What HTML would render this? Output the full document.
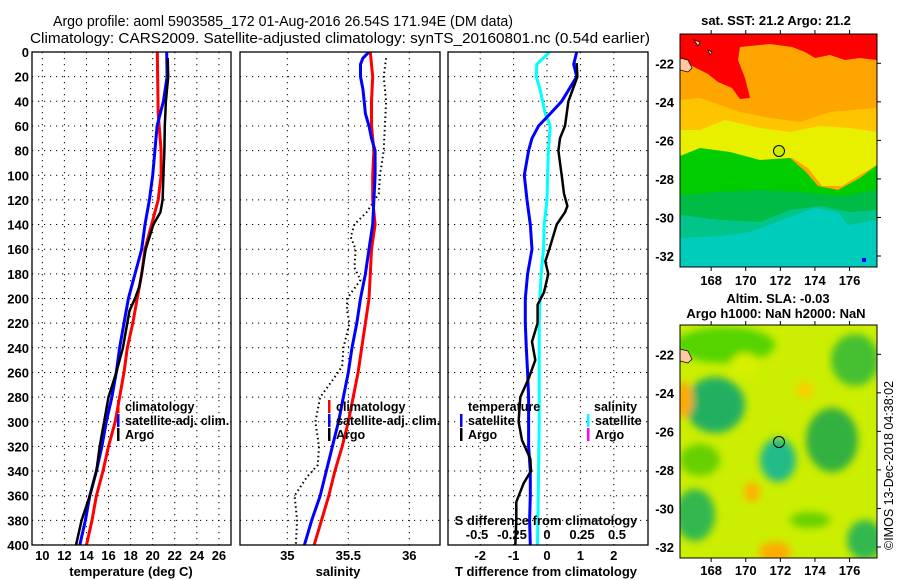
<!DOCTYPE html>
<html><head><meta charset="utf-8"><style>
html,body{margin:0;padding:0;background:#fff;}
svg{display:block;font-family:"Liberation Sans",sans-serif;}
.tk{font-size:13px;font-weight:bold;fill:#000;}
.lg{font-size:12.5px;font-weight:bold;fill:#000;}
.ttl{font-size:15px;fill:#000;}
</style></head><body>
<svg id="fig" width="900" height="580" viewBox="0 0 900 580" xmlns="http://www.w3.org/2000/svg">
<defs>
<clipPath id="c1"><rect x="32" y="52" width="199" height="493"/></clipPath>
<clipPath id="c2"><rect x="240" y="52" width="200" height="493"/></clipPath>
<clipPath id="c3"><rect x="448" y="52" width="200" height="493"/></clipPath>
<clipPath id="m1"><rect x="680" y="34" width="197" height="233"/></clipPath>
<clipPath id="m2"><rect x="680" y="325" width="197" height="233"/></clipPath>
<filter id="bl" x="-20%" y="-20%" width="140%" height="140%"><feGaussianBlur stdDeviation="4"/></filter>
</defs>
<text class="ttl" x="53" y="26" textLength="460" lengthAdjust="spacingAndGlyphs">Argo profile: aoml 5903585_172 01-Aug-2016 26.54S 171.94E (DM data)</text>
<text class="ttl" x="30" y="43" textLength="620" lengthAdjust="spacingAndGlyphs">Climatology: CARS2009. Satellite-adjusted climatology: synTS_20160801.nc (0.54d earlier)</text>

<!-- SST map -->
<g clip-path="url(#m1)">
<rect x="680" y="34" width="197" height="233" fill="#ffa500"/>
<polygon fill="#ff0000" points="680,34 877,34 877,60 860,58 845,60 830,55 815,58 805,52 792,47 770,44 750,46 740,47 738,60 745,78 750,98 740,99 732,88 718,82 708,74 696,68 684,62 680,60"/>
<polygon fill="#ff0000" points="700,34 760,34 760,40 700,42"/>
<polygon fill="#ffc400" points="680,100 700,98 720,105 740,112 770,118 800,122 830,112 877,108 877,140 680,150"/>
<polygon fill="#e8f000" points="680,130 700,130 725,120 760,128 790,132 820,126 850,128 877,132 877,165 860,175 842,186 822,186 808,168 792,158 760,160 725,154 700,150 680,156"/>
<polygon fill="#00cc00" points="680,156 700,148 730,152 760,160 790,158 806,172 818,186 838,190 860,178 877,165 877,267 680,267"/>
<polygon fill="#00bb44" points="680,195 720,192 760,190 800,192 840,196 877,190 877,267 680,267"/>
<polygon fill="#00c48a" points="680,215 720,220 760,222 790,210 820,206 850,212 877,210 877,267 680,267"/>
<polygon fill="#00ccbb" points="680,238 720,236 750,232 790,217 815,208 838,212 848,225 877,220 877,267 680,267"/>
<rect x="862" y="258" width="4" height="4" fill="#0000ff"/>
<path d="M680,58 L688,60 L692,68 L688,72 L680,70 Z" fill="#ffc8a0" stroke="#000" stroke-width="0.7"/>
<path d="M694,40 L700,42 L698,46 Z M708,50 L712,52 L710,55 Z" fill="#ffc8a0" stroke="#000" stroke-width="0.7"/>
<circle cx="779" cy="151" r="5.5" fill="#c8f000" stroke="#000" stroke-width="1"/>
</g>
<rect x="680" y="34" width="197" height="233" fill="none" stroke="#000" stroke-width="1"/>
<text class="tk" x="776" y="25" text-anchor="middle">sat. SST: 21.2 Argo: 21.2</text>

<!-- SLA map -->
<g clip-path="url(#m2)">
<rect x="680" y="325" width="197" height="233" fill="#ccee00"/>
<g filter="url(#bl)">
<ellipse cx="725" cy="345" rx="50" ry="18" fill="#55d400"/>
<ellipse cx="715" cy="405" rx="30" ry="28" fill="#22b060"/>
<ellipse cx="745" cy="365" rx="14" ry="12" fill="#d8f000"/>
<ellipse cx="683" cy="400" rx="10" ry="18" fill="#ffaa00"/>
<ellipse cx="778" cy="460" rx="18" ry="22" fill="#22bb88"/>
<ellipse cx="832" cy="440" rx="26" ry="32" fill="#33b040"/>
<ellipse cx="855" cy="360" rx="24" ry="26" fill="#44c030"/>
<ellipse cx="695" cy="515" rx="20" ry="26" fill="#33b850"/>
<ellipse cx="700" cy="460" rx="20" ry="16" fill="#66d000"/>
<ellipse cx="865" cy="540" rx="18" ry="20" fill="#33b850"/>
<ellipse cx="775" cy="552" rx="16" ry="10" fill="#ffaa00"/>
<ellipse cx="752" cy="492" rx="8" ry="10" fill="#ffb000"/>
<ellipse cx="805" cy="390" rx="8" ry="8" fill="#ffcc00"/>
<ellipse cx="810" cy="520" rx="20" ry="8" fill="#66d000"/>
</g>
<path d="M680,58 L688,60 L692,68 L688,72 L680,70 Z" transform="translate(0,291)" fill="#ffc8a0" stroke="#000" stroke-width="0.7"/>
<circle cx="779" cy="442" r="5.5" fill="none" stroke="#000" stroke-width="1"/>
</g>
<rect x="680" y="325" width="197" height="233" fill="none" stroke="#000" stroke-width="1"/>
<text class="tk" x="778" y="303" text-anchor="middle">Altim. SLA: -0.03</text>
<text class="tk" x="776" y="318" text-anchor="middle">Argo h1000: NaN h2000: NaN</text>
<text transform="translate(893,550) rotate(-90)" font-size="12.5" fill="#000">©IMOS 13-Dec-2018 04:38:02</text>

<g id="axes"></g>
</svg>
<script>
// ---------- data ----------
var depthTicks = [0,20,40,60,80,100,120,140,160,180,200,220,240,260,280,300,320,340,360,380,400];
var tempTicks = [10,12,14,16,18,20,22,24,26];
var salTicks = [35,35.5,36];
var salTickLabels = ["35","35.5","36"];
var tdiffTicks = [-2,-1,0,1,2];
var sdiffTicks = [-0.5,-0.25,0,0.25,0.5];
var sdiffTickLabels = ["-0.5","-0.25","0","0.25","0.5"];
var lonTicks = [168,170,172,174,176];
var latTicks = [-22,-24,-26,-28,-30,-32];

var climTDepth = [0,50,80,100,120,140,160,180,200,220,240,260,280,300,320,340,360,380,400];
var climT = [20.42,20.5,20.76,20.76,20.5,19.9,19.3,19.0,18.6,18.2,17.7,17.4,17.0,16.6,16.0,15.5,14.9,14.5,14.0];
var satTDepth = [0,20,40,60,80,100,120,140,160,180,200,220,240,260,280,300,320,340,360,380,400];
var satT = [21.27,21.3,20.97,20.4,20.2,20.0,19.7,19.3,19.0,18.4,17.8,17.4,17.0,16.7,16.3,15.8,15.4,14.9,14.3,13.9,13.4];
var argoTDepth = [5,20,40,60,80,100,120,130,140,160,180,190,200,210,220,240,260,280,300,320,340,360,380,400];
var argoT = [21.36,21.4,21.2,21.1,21.06,20.97,20.9,20.7,20.06,19.37,19.0,18.8,18.4,17.9,17.7,17.3,16.7,16.0,15.6,15.2,14.9,14.3,13.56,13.05];

var climSDepth = [0,20,40,60,80,100,120,140,160,180,200,220,240,260,280,300,320,340,360,380,400];
var climS = [35.68,35.70,35.69,35.69,35.71,35.70,35.70,35.72,35.69,35.68,35.67,35.64,35.61,35.58,35.54,35.50,35.45,35.39,35.34,35.28,35.22];
var satSDepth = [0,5,10,20,30,40,50,60,70,80,100,120,140,160,180,200,220,240,260,280,300,320,340,360,380,400];
var satS = [35.67,35.62,35.60,35.60,35.62,35.63,35.64,35.67,35.69,35.72,35.72,35.71,35.70,35.67,35.64,35.60,35.57,35.53,35.50,35.46,35.42,35.37,35.32,35.27,35.20,35.14];
var argoSDepth = [5,20,40,60,80,100,115,130,140,150,160,175,185,200,210,220,240,255,265,280,300,320,335,345,360,380,400];
var argoS = [35.81,35.79,35.81,35.80,35.79,35.76,35.75,35.65,35.55,35.52,35.56,35.55,35.60,35.49,35.49,35.51,35.46,35.45,35.38,35.27,35.23,35.26,35.25,35.16,35.06,35.08,35.07];

var satTdDepth = [0,10,20,40,50,60,70,80,100,120,140,160,180,200,220,240,260,280,300,320,340,360,380,400];
var satTd = [0.89,0.8,0.89,0.44,0.1,-0.25,-0.45,-0.55,-0.68,-0.6,-0.5,-0.45,-0.58,-0.65,-0.65,-0.62,-0.58,-0.55,-0.55,-0.55,-0.5,-0.5,-0.52,-0.5];
var argoTdDepth = [9,20,40,60,70,80,90,100,115,125,130,140,160,170,180,195,205,220,235,250,265,280,300,315,330,340,350,365,380,400];
var argoTd = [0.89,0.91,0.64,0.54,0.39,0.34,0.39,0.44,0.51,0.61,0.54,0.29,0.07,-0.05,0.04,-0.09,-0.28,-0.28,-0.45,-0.35,-0.55,-0.8,-0.85,-0.75,-0.5,-0.48,-0.7,-0.92,-0.92,-0.95];
var satSdDepth = [0,10,20,30,50,60,80,100,120,140,160,180,200,220,260,300,340,400];
var satSd = [0.018,-0.073,-0.077,-0.05,-0.013,0.023,0.01,0.004,0,-0.02,-0.025,-0.042,-0.05,-0.056,-0.056,-0.056,-0.06,-0.068];

// ---------- scales ----------
function yD(d){return 52 + d*1.2325;}
function xT(t){return 42.3 + (t-10)*11.04;}
function xS(s){return 287.3 + (s-35)*122;}
function xTd(v){return 547 + v*33.4;}
function xSd(v){return 547 + v*140;}
function xLon(l){return 680 + (l-166.2)*17.3;}
function yLat1(l){return 34 + (-20.48 - l)*19.27;}
function yLat2(l){return 325 + (-20.48 - l)*19.27;}

var NS="http://www.w3.org/2000/svg";
var root=document.getElementById('axes');
function mk(tag,attrs,parent){var e=document.createElementNS(NS,tag);for(var k in attrs)e.setAttribute(k,attrs[k]);(parent||root).appendChild(e);return e;}
function txt(x,y,s,anchor,cls,parent){var t=mk('text',{x:x,y:y,'text-anchor':anchor||'middle','class':cls||'tk'},parent);t.textContent=s;return t;}

var panels=[{x0:32,x1:231,clip:'c1',name:'temperature-panel'},{x0:240,x1:440,clip:'c2',name:'salinity-panel'},{x0:448,x1:648,clip:'c3',name:'difference-panel'}];
panels.forEach(function(p,i){
  var g=mk('g',{});
  
  
  depthTicks.forEach(function(d){
    var l=mk('line',{x1:p.x0,x2:p.x1,y1:yD(d),y2:yD(d),stroke:'#000','stroke-width':1,'stroke-dasharray':'1.2,4.8'},g);
    
    
  });
  var xs = i==0 ? tempTicks.map(xT) : i==1 ? salTicks.map(xS) : tdiffTicks.map(xTd);
  xs.forEach(function(x){
    var l=mk('line',{x1:x,x2:x,y1:52,y2:545,stroke:'#000','stroke-width':1,'stroke-dasharray':'1.2,4.8'},g);
    
    
  });
  p.g=g;
});

function line(g,depths,vals,fx,color,w,dash,name){
  var pts=depths.map(function(d,i){return fx(vals[i]).toFixed(1)+','+yD(d).toFixed(1);}).join(' ');
  var a={points:pts,fill:'none',stroke:color,'stroke-width':w,'stroke-linejoin':'round'};
  if(dash)a['stroke-dasharray']=dash;
  var pl=mk('polyline',a,g);
  
  
}
var c1=mk('g',{'clip-path':'url(#c1)'},panels[0].g);
line(c1,climTDepth,climT,xT,'#ff0000',3,null,'climatology-temperature-line');
line(c1,satTDepth,satT,xT,'#0000ff',3,null,'satellite-temperature-line');
line(c1,argoTDepth,argoT,xT,'#000000',2.5,null,'argo-temperature-line');
var c2=mk('g',{'clip-path':'url(#c2)'},panels[1].g);
line(c2,argoSDepth,argoS,xS,'#000000',2,'1.5,3','argo-salinity-line');
line(c2,climSDepth,climS,xS,'#ff0000',3,null,'climatology-salinity-line');
line(c2,satSDepth,satS,xS,'#0000ff',3,null,'satellite-salinity-line');
var c3=mk('g',{'clip-path':'url(#c3)'},panels[2].g);
line(c3,satSdDepth,satSd,xSd,'#00ffff',3,null,'satellite-salinity-diff-line');
line(c3,satTdDepth,satTd,xTd,'#0000ff',3,null,'satellite-temperature-diff-line');
line(c3,argoTdDepth,argoTd,xTd,'#000000',2.5,null,'argo-temperature-diff-line');

panels.forEach(function(p){
  var r=mk('rect',{x:p.x0,y:52,width:p.x1-p.x0,height:493,fill:'none',stroke:'#000','stroke-width':1.3},p.g);
  
  
});

depthTicks.forEach(function(d){
  var t=txt(29,yD(d)+5,String(d),'end');
  
  
});
tempTicks.forEach(function(v){
  var t=txt(xT(v),560,String(v));
  
  
});
salTicks.forEach(function(v,i){
  var t=txt(xS(v),560,salTickLabels[i]);
  
  
});
tdiffTicks.forEach(function(v){
  var t=txt(xTd(v),560,String(v));
  
  
});
sdiffTicks.forEach(function(v,i){
  var t=txt(xSd(v),539,sdiffTickLabels[i]);
  
  
});
var xl1=txt(131,576,'temperature (deg C)');


var xl2=txt(338,576,'salinity');


var xl3=txt(546,576,'T difference from climatology');


var xl4=txt(546,525,'S difference from climatology');



function legend(x,y,color,label,name){
  var b=mk('rect',{x:x,y:y-11,width:2.5,height:13,fill:color});
  
  
  var t=txt(x+8,y,label,'start','lg');
  
  
}
legend(117,411,'#ff0000','climatology','legend-climatology');
legend(117,425,'#0000ff','satellite-adj. clim.','legend-satellite-adj');
legend(117,439,'#000000','Argo','legend-argo');
legend(328,411,'#ff0000','climatology','legend-climatology-s');
legend(328,425,'#0000ff','satellite-adj. clim.','legend-satellite-adj-s');
legend(328,439,'#000000','Argo','legend-argo-s');
var lt=txt(468,411,'temperature','start','lg');


legend(460,425,'#0000ff','satellite','legend-t-satellite');
legend(460,439,'#000000','Argo','legend-t-argo');
var ls=txt(594,411,'salinity','start','lg');


legend(587,425,'#00ffff','satellite','legend-s-satellite');
legend(587,439,'#ff00ff','Argo','legend-s-argo');

lonTicks.forEach(function(l){
  var a=txt(xLon(l),285,String(l));
  
  
  var b=txt(xLon(l),575,String(l));
  
  
  mk('line',{x1:xLon(l),x2:xLon(l),y1:34,y2:30,stroke:'#000'});
  mk('line',{x1:xLon(l),x2:xLon(l),y1:267,y2:271,stroke:'#000'});
  mk('line',{x1:xLon(l),x2:xLon(l),y1:325,y2:321,stroke:'#000'});
  mk('line',{x1:xLon(l),x2:xLon(l),y1:558,y2:562,stroke:'#000'});
});
latTicks.forEach(function(l){
  var a=txt(674,yLat1(l)+5,String(l),'end');
  
  
  var b=txt(674,yLat2(l)+5,String(l),'end');
  
  
  mk('line',{x1:877,x2:881,y1:yLat1(l),y2:yLat1(l),stroke:'#000'});
  mk('line',{x1:877,x2:881,y1:yLat2(l),y2:yLat2(l),stroke:'#000'});
});
</script>
</body></html>
